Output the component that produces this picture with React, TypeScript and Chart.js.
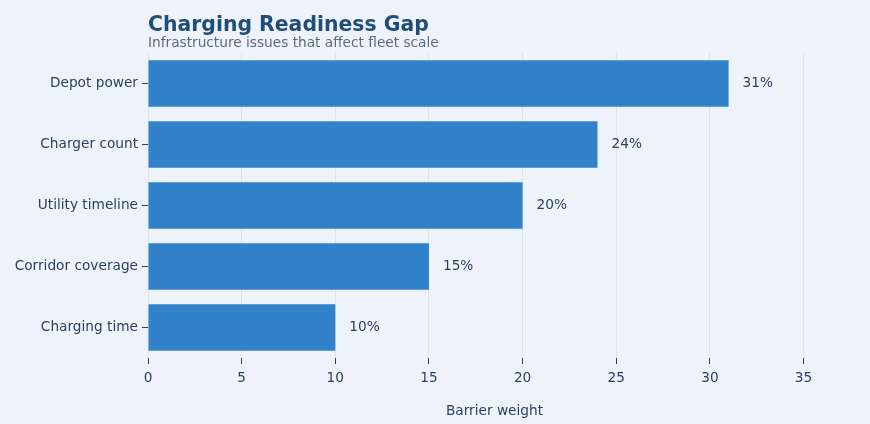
import React, { useEffect, useRef } from "react";
import { Chart, registerables } from "chart.js";
Chart.register(...registerables);

const categories = ["Depot power", "Charger count", "Utility timeline", "Corridor coverage", "Charging time"];
const values = [31, 24, 20, 15, 10];
const xTicks = [0, 5, 10, 15, 20, 25, 30, 35];
const FONT = "'DejaVu Sans', sans-serif";

export default function App() {
  const ref = useRef<HTMLCanvasElement>(null);
  useEffect(() => {
    const textPlugin = {
      id: "texts",
      afterDatasetsDraw(chart: any) {
        const ctx = chart.ctx;
        const left = chart.chartArea.left;
        ctx.save();
        ctx.textAlign = "left";
        ctx.textBaseline = "alphabetic";
        ctx.fillStyle = "#1f4e79";
        ctx.font = `bold 20.4px ${FONT}`;
        ctx.fillText("Charging Readiness Gap", left, 31);
        ctx.fillStyle = "#5a6b7d";
        ctx.font = `13.7px ${FONT}`;
        ctx.fillText("Infrastructure issues that affect fleet scale", left, 47);
        const meta = chart.getDatasetMeta(0);
        ctx.fillStyle = "#2a3f5f";
        ctx.font = `13.7px ${FONT}`;
        ctx.textBaseline = "middle";
        meta.data.forEach((bar: any, i: number) => {
          ctx.fillText(values[i] + "%", bar.x + 14, bar.y);
        });
        ctx.restore();
      },
    };
    const chart = new Chart(ref.current!, {
      type: "bar",
      data: {
        labels: categories,
        datasets: [{ data: values, backgroundColor: "#3182c8", borderWidth: 0, categoryPercentage: 1, barPercentage: 0.76 }],
      },
      options: {
        indexAxis: "y",
        animation: false,
        responsive: false,
        layout: { padding: { top: 53, right: 29, left: 0, bottom: 4 } },
        plugins: { legend: { display: false }, tooltip: { enabled: false } },
        scales: {
          x: {
            min: 0, max: 37,
            ticks: { color: "#2a3f5f", font: { family: FONT, size: 13.7 }, padding: 6,
              callback: (v: any) => String(v) },
            afterBuildTicks: (axis: any) => { axis.ticks = xTicks.map((v) => ({ value: v })); },
            afterFit: (axis: any) => { axis.height = 62; },
            grid: { color: "#dde3ea", tickColor: "#2a3f5f", tickLength: 6 },
            border: { display: false },
            title: { display: true, text: "Barrier weight", color: "#2a3f5f", font: { family: FONT, size: 13.7 }, padding: { top: 2, bottom: 0 } },
          },
          y: {
            ticks: { color: "#2a3f5f", font: { family: FONT, size: 13.7 }, padding: 4 },
            afterFit: (axis: any) => { axis.width = 148; },
            grid: { color: "rgba(0,0,0,0)", tickColor: "#2a3f5f", tickLength: 6, offset: false },
            border: { display: false },
          },
        },
      },
      plugins: [textPlugin],
    });
    return () => chart.destroy();
  }, []);
  return (
    <div style={{ position: "fixed", left: 0, top: 0, width: 870, height: 424, background: "#eef3fb" }}>
      <canvas ref={ref} width={870} height={424} style={{ width: 870, height: 424 }} />
    </div>
  );
}
